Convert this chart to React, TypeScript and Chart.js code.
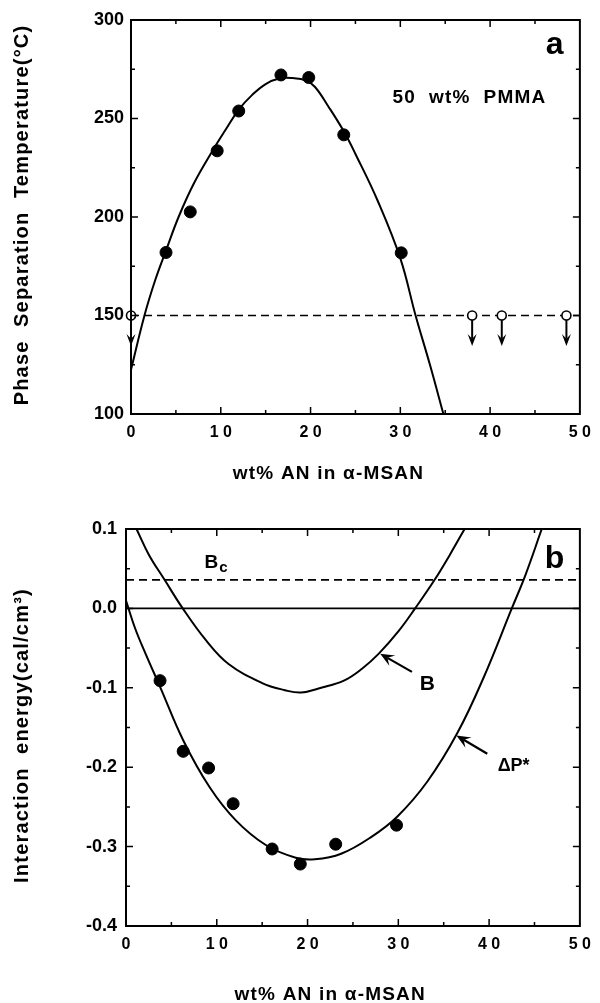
import React, { useEffect, useRef } from "react";
import { Chart, registerables } from "chart.js";

Chart.register(...registerables);

const FONT = '"Liberation Sans", Arial, Helvetica, sans-serif';

// ---------------- Panel a : phase separation temperature ----------------
const aCloudAN = [3.9, 6.6, 9.6, 12.0, 16.7, 19.8, 23.7, 30.1];
const aCloudTemp = [182, 202.6, 233.6, 253.8, 272.1, 270.8, 241.7, 181.8];
const aMiscibleAN = [0, 38.0, 41.3, 48.5];
const aMiscibleTemp = [150, 150, 150, 150];
const aMiscibleArrowTo = [134.5, 134.5, 134.5, 134.5];
const aFitAN = [0, 1.5, 2.7, 3.9, 5.3, 7.0, 9.0, 10.5, 12.0, 13.5, 15.0, 16.5, 18.0, 19.5, 20.5, 22.0, 23.7, 25.0, 27.5, 30.0, 31.7, 33.3, 34.8];
const aFitTemp = [122.5, 150, 168, 183, 200, 217, 233, 244, 254.5, 262, 267.5, 270.3, 270.5, 269.3, 266, 256, 243.5, 232, 208, 179, 150, 125, 100];
const aLimitAN = [0, 50];
const aLimitTemp = [150, 150];

// ---------------- Panel b : interaction energy ----------------
const bPointAN = [3.75, 6.3, 9.1, 11.8, 16.1, 19.2, 23.1, 29.8];
const bPointE = [-0.091, -0.18, -0.201, -0.246, -0.303, -0.322, -0.297, -0.273];
const bDeltaPAN = [0, 1.0, 2.15, 3.8, 6.3, 9.2, 12.1, 15.4, 18.7, 20.8, 23.7, 27.0, 29.9, 33.2, 36.5, 39.4, 42.5, 44.0, 45.8];
const bDeltaPE = [0.01, -0.025, -0.057, -0.1, -0.166, -0.225, -0.267, -0.298, -0.314, -0.316, -0.309, -0.288, -0.262, -0.218, -0.157, -0.087, 0.0, 0.042, 0.1];
const bBAN = [1.16, 2.5, 4.25, 6.25, 8.8, 11.3, 15.0, 17.5, 19.3, 21.5, 24.0, 26.0, 27.85, 30.0, 31.85, 34.0, 35.7, 37.3];
const bBE = [0.1, 0.068, 0.036, 0.0, -0.04, -0.07, -0.094, -0.103, -0.106, -0.1, -0.091, -0.076, -0.057, -0.029, 0.0, 0.036, 0.068, 0.1];
const bBcAN = [0, 50];
const bBcE = [0.036, 0.036];
const bZeroAN = [0, 50];
const bZeroE = [0, 0];

const xTitle = "wt% AN in α-MSAN";
const aYTitle = "Phase  Separation  Temperature(°C)";
const bYTitle = "Interaction  energy(cal/cm³)";

const pts = (xs: number[], ys: number[]) => xs.map((x, i) => ({ x, y: ys[i] }));

function setSpacing(ctx: any, s: string) {
  try {
    ctx.letterSpacing = s;
  } catch (e) {}
}

const framePlugin = {
  id: "frame",
  afterDatasetsDraw(chart: any, _a: any, opts: any) {
    const { ctx, chartArea: ca } = chart;
    const xs = chart.scales.x;
    const ys = chart.scales.y;
    ctx.save();
    ctx.strokeStyle = "#000";
    ctx.lineWidth = 1.5;
    ctx.beginPath();
    const nx = Math.round((xs.max - xs.min) / opts.xMinor);
    for (let i = 1; i < nx; i++) {
      const v = xs.min + i * opts.xMinor;
      const major = Math.abs(v / opts.xMajor - Math.round(v / opts.xMajor)) < 1e-6;
      const len = major ? 7 : 4;
      const px = xs.getPixelForValue(v);
      ctx.moveTo(px, ca.bottom);
      ctx.lineTo(px, ca.bottom - len);
      ctx.moveTo(px, ca.top);
      ctx.lineTo(px, ca.top + len);
    }
    const ny = Math.round((ys.max - ys.min) / opts.yMinor);
    for (let i = 1; i < ny; i++) {
      const v = ys.min + i * opts.yMinor;
      const major = Math.abs((v - ys.min) / opts.yMajor - Math.round((v - ys.min) / opts.yMajor)) < 1e-6;
      const len = major ? 7 : 4;
      const py = ys.getPixelForValue(v);
      ctx.moveTo(ca.left, py);
      ctx.lineTo(ca.left + len, py);
      ctx.moveTo(ca.right, py);
      ctx.lineTo(ca.right - len, py);
    }
    ctx.stroke();
    ctx.lineWidth = 2;
    ctx.strokeRect(ca.left, ca.top, ca.right - ca.left, ca.bottom - ca.top);
    ctx.restore();
  },
};

function drawArrow(ctx: any, x1: number, y1: number, x2: number, y2: number, head: number, half: number) {
  const ang = Math.atan2(y2 - y1, x2 - x1);
  const c = Math.cos(ang);
  const s = Math.sin(ang);
  ctx.beginPath();
  ctx.moveTo(x1, y1);
  ctx.lineTo(x2 - c * head * 0.6, y2 - s * head * 0.6);
  ctx.stroke();
  ctx.beginPath();
  ctx.moveTo(x2, y2);
  ctx.lineTo(x2 - c * head - s * half, y2 - s * head + c * half);
  ctx.lineTo(x2 - c * head * 0.6, y2 - s * head * 0.6);
  ctx.lineTo(x2 - c * head + s * half, y2 - s * head - c * half);
  ctx.closePath();
  ctx.fill();
}

const annotPlugin = {
  id: "annot",
  afterDraw(chart: any, _a: any, opts: any) {
    const { ctx, chartArea: ca } = chart;
    const xs = chart.scales.x;
    const ys = chart.scales.y;
    ctx.save();
    ctx.fillStyle = "#000";
    ctx.strokeStyle = "#000";
    ctx.textAlign = "center";
    ctx.textBaseline = "middle";

    if (opts.down) {
      const d = opts.down;
      ctx.lineWidth = 2;
      d.xs.forEach((xv: number, i: number) => {
        const px = xs.getPixelForValue(xv);
        const py0 = ys.getPixelForValue(d.ys[i]) + 4.5;
        const py1 = ys.getPixelForValue(d.to[i]);
        drawArrow(ctx, px, py0, px, py1, 12, 4.5);
      });
    }
    (opts.arrows || []).forEach((a: any) => {
      ctx.lineWidth = 2.2;
      drawArrow(
        ctx,
        xs.getPixelForValue(a.x1),
        ys.getPixelForValue(a.y1),
        xs.getPixelForValue(a.x2),
        ys.getPixelForValue(a.y2),
        14,
        6
      );
    });
    (opts.texts || []).forEach((t: any) => {
      const px = xs.getPixelForValue(t.x);
      const py = ys.getPixelForValue(t.y);
      ctx.font = `bold ${t.size}px ${FONT}`;
      setSpacing(ctx, t.spacing || "0px");
      if (t.sub) {
        const w = ctx.measureText(t.text).width;
        ctx.fillText(t.text, px, py);
        ctx.font = `bold ${t.subSize}px ${FONT}`;
        ctx.textAlign = "left";
        ctx.fillText(t.sub, px + w / 2 + 1, py + 5);
        ctx.textAlign = "center";
      } else {
        ctx.fillText(t.text, px, py);
      }
    });
    if (opts.xTitle) {
      const t = opts.xTitle;
      ctx.font = `bold ${t.size}px ${FONT}`;
      setSpacing(ctx, t.spacing);
      ctx.fillText(t.text, ca.left + t.frac * (ca.right - ca.left), t.y);
    }
    if (opts.yTitle) {
      const t = opts.yTitle;
      ctx.font = `bold ${t.size}px ${FONT}`;
      setSpacing(ctx, t.spacing);
      ctx.translate(t.x, (ca.top + ca.bottom) / 2 + t.dy);
      ctx.rotate(-Math.PI / 2);
      ctx.fillText(t.text, 0, 0);
    }
    setSpacing(ctx, "0px");
    ctx.restore();
  },
};

function makeScales(o: any) {
  return {
    x: {
      type: "linear",
      min: 0,
      max: 50,
      ticks: {
        stepSize: 10,
        color: "#000",
        padding: o.xPad,
        maxRotation: 0,
        autoSkip: false,
        font: { family: FONT, size: 16, weight: "bold" },
        callback: (v: number) => String(v).split("").join(" "),
      },
      grid: { display: false, drawTicks: false },
      border: { display: false },
      afterFit: (s: any) => {
        s.height = o.xHeight;
      },
    },
    y: {
      type: "linear",
      min: o.yMin,
      max: o.yMax,
      ticks: {
        stepSize: o.yStep,
        color: "#000",
        padding: o.yPad,
        autoSkip: false,
        font: { family: FONT, size: 18, weight: "bold" },
        callback: o.yCb,
      },
      grid: { display: false, drawTicks: false },
      border: { display: false },
      afterFit: (s: any) => {
        s.width = o.yWidth;
      },
    },
  };
}

const lineDs = (data: any, extra: any = {}) => ({
  type: "line",
  data,
  borderColor: "#000",
  borderWidth: 2,
  pointRadius: 0,
  fill: false,
  showLine: true,
  ...extra,
});

function configA(): any {
  return {
    type: "scatter",
    data: {
      datasets: [
        {
          label: "cloud points",
          data: pts(aCloudAN, aCloudTemp),
          pointRadius: 6,
          backgroundColor: "#000",
          borderColor: "#000",
          clip: false,
        },
        {
          label: "miscible",
          data: pts(aMiscibleAN, aMiscibleTemp),
          pointRadius: 4.5,
          backgroundColor: "#fff",
          borderColor: "#000",
          borderWidth: 1.6,
          clip: false,
        },
        lineDs(pts(aFitAN, aFitTemp), { tension: 0.4 }),
        lineDs(pts(aLimitAN, aLimitTemp), { borderDash: [8, 5], borderWidth: 1.7 }),
      ],
    },
    options: {
      responsive: false,
      animation: false,
      events: [],
      layout: { padding: { top: 20, right: 11, left: 0, bottom: 0 } },
      scales: makeScales({
        xPad: 9,
        xHeight: 86,
        yMin: 100,
        yMax: 300,
        yStep: 50,
        yPad: 7,
        yWidth: 131,
        yCb: (v: number) => String(v),
      }),
      plugins: {
        legend: { display: false },
        tooltip: { enabled: false },
        frame: { xMinor: 5, xMajor: 10, yMinor: 25, yMajor: 50 },
        annot: {
          down: { xs: aMiscibleAN, ys: aMiscibleTemp, to: aMiscibleArrowTo },
          texts: [
            { text: "a", x: 47.2, y: 287, size: 32 },
            { text: "50  wt%  PMMA", x: 37.7, y: 260.6, size: 19, spacing: "1.2px" },
          ],
          xTitle: { text: xTitle, size: 19, spacing: "1.2px", frac: 0.44, y: 474 },
          yTitle: { text: aYTitle, size: 20, spacing: "1.2px", x: 22, dy: -2 },
        },
      },
    },
    plugins: [framePlugin, annotPlugin],
  };
}

function configB(): any {
  return {
    type: "scatter",
    data: {
      datasets: [
        {
          label: "measured",
          data: pts(bPointAN, bPointE),
          pointRadius: 6,
          backgroundColor: "#000",
          borderColor: "#000",
          clip: false,
        },
        lineDs(pts(bDeltaPAN, bDeltaPE), { tension: 0.4 }),
        lineDs(pts(bBAN, bBE), { tension: 0.4 }),
        lineDs(pts(bBcAN, bBcE), { borderDash: [8, 5], borderWidth: 1.7 }),
        lineDs(pts(bZeroAN, bZeroE), { borderWidth: 1.7 }),
      ],
    },
    options: {
      responsive: false,
      animation: false,
      events: [],
      layout: { padding: { top: 29, right: 15, left: 0, bottom: 0 } },
      scales: makeScales({
        xPad: 9,
        xHeight: 77,
        yMin: -0.4,
        yMax: 0.1,
        yStep: 0.1,
        yPad: 9,
        yWidth: 126,
        yCb: (v: number) => (Math.abs(v) < 1e-9 ? "0.0" : v.toFixed(1)),
      }),
      plugins: {
        legend: { display: false },
        tooltip: { enabled: false },
        frame: { xMinor: 5, xMajor: 10, yMinor: 0.05, yMajor: 0.1 },
        annot: {
          arrows: [
            { x1: 31.5, y1: -0.08, x2: 28.0, y2: -0.057 },
            { x1: 39.8, y1: -0.183, x2: 36.4, y2: -0.16 },
          ],
          texts: [
            { text: "b", x: 47.2, y: 0.062, size: 32 },
            { text: "B", x: 9.4, y: 0.057, size: 19, sub: "c", subSize: 15 },
            { text: "B", x: 33.2, y: -0.096, size: 21 },
            { text: "ΔP*", x: 42.7, y: -0.198, size: 18 },
          ],
          xTitle: { text: xTitle, size: 19, spacing: "1.2px", frac: 0.45, y: 995 - 500 },
          yTitle: { text: bYTitle, size: 20, spacing: "1.2px", x: 22, dy: 8 },
        },
      },
    },
    plugins: [framePlugin, annotPlugin],
  };
}

export default function App() {
  const aRef = useRef<HTMLCanvasElement>(null);
  const bRef = useRef<HTMLCanvasElement>(null);
  useEffect(() => {
    const ca = new Chart(aRef.current as HTMLCanvasElement, configA());
    const cb = new Chart(bRef.current as HTMLCanvasElement, configB());
    return () => {
      ca.destroy();
      cb.destroy();
    };
  }, []);
  return (
    <div style={{ position: "absolute", left: 0, top: 0, width: 600, height: 1003, background: "#fff" }}>
      <canvas ref={aRef} width={600} height={500} style={{ position: "absolute", left: 0, top: 0, width: 600, height: 500 }} />
      <canvas ref={bRef} width={600} height={503} style={{ position: "absolute", left: 0, top: 500, width: 600, height: 503 }} />
    </div>
  );
}
